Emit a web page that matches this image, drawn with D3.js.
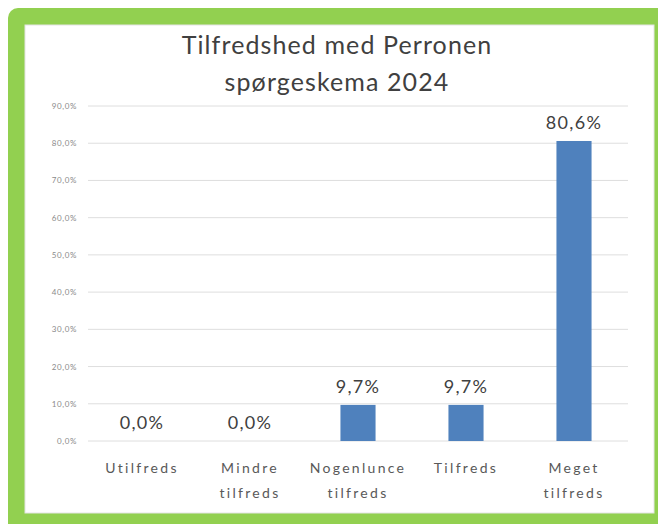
<!DOCTYPE html>
<html>
<head>
<meta charset="utf-8">
<script src="https://cdn.jsdelivr.net/npm/d3@7"></script>
<style>
  body { margin: 0; background: #fff; }
  svg { display: block; }
</style>
</head>
<body>
<svg id="chart"></svg>
<script>
const categories = [["Utilfreds"], ["Mindre", "tilfreds"], ["Nogenlunce", "tilfreds"], ["Tilfreds"], ["Meget", "tilfreds"]];
const values = [0.0, 0.0, 9.7, 9.7, 80.6];
const y_ticks = [0, 10, 20, 30, 40, 50, 60, 70, 80, 90];
const title_lines = ["Tilfredshed med Perronen", "spørgeskema 2024"];

const width = 658, height = 524;
const font = "Lato, 'Open Sans', sans-serif";

const svg = d3.select("#chart").attr("width", width).attr("height", height);

// green frame
svg.append("rect")
   .attr("x", 8).attr("y", 8)
   .attr("width", 665).attr("height", 530)
   .attr("rx", 10)
   .attr("fill", "#92d050");
svg.append("rect")
   .attr("x", 25).attr("y", 25)
   .attr("width", 629).attr("height", 488)
   .attr("fill", "#fff")
   .attr("stroke", "#e4e4e4")
   .attr("stroke-width", 1);

const x = d3.scaleBand()
            .domain(d3.range(categories.length))
            .range([88, 628])
            .paddingInner(0.675)
            .paddingOuter(0.3375);

const y = d3.scaleLinear().domain([0, 90]).range([441, 106]);

const fmt = v => d3.format(".1f")(v).replace(".", ",") + "%";

// gridlines
svg.append("g")
   .selectAll("line")
   .data(y_ticks)
   .enter()
   .append("line")
   .attr("x1", 88).attr("x2", 628)
   .attr("y1", d => y(d)).attr("y2", d => y(d))
   .attr("stroke", "#dedede")
   .attr("stroke-width", 1);

// y tick labels
svg.append("g")
   .selectAll("text")
   .data(y_ticks)
   .enter()
   .append("text")
   .attr("x", 77)
   .attr("y", d => y(d) + 3)
   .attr("text-anchor", "end")
   .attr("font-family", font)
   .attr("font-size", 8)
   .attr("letter-spacing", 0.6)
   .attr("fill", "#8a8a8a")
   .text(d => fmt(d));

// bars
svg.append("g")
   .selectAll("rect")
   .data(values)
   .enter()
   .append("rect")
   .attr("x", (d, i) => x(i))
   .attr("y", d => y(d))
   .attr("width", x.bandwidth())
   .attr("height", d => y(0) - y(d))
   .attr("fill", "#4f81bd");

// value labels
svg.append("g")
   .selectAll("text")
   .data(values)
   .enter()
   .append("text")
   .attr("x", (d, i) => x(i) + x.bandwidth() / 2)
   .attr("y", d => y(d) - 12)
   .attr("text-anchor", "middle")
   .attr("font-family", font)
   .attr("font-size", 18)
   .attr("letter-spacing", 1.3)
   .attr("fill", "#404040")
   .text(d => fmt(d));

// category labels
const cat = svg.append("g")
               .selectAll("text")
               .data(categories)
               .enter()
               .append("text")
               .attr("text-anchor", "middle")
               .attr("font-family", font)
               .attr("font-size", 14)
               .attr("letter-spacing", 2.3)
               .attr("fill", "#595959");
cat.selectAll("tspan")
   .data((d, i) => d.map(t => ({ t: t, i: i })))
   .enter()
   .append("tspan")
   .attr("x", d => x(d.i) + x.bandwidth() / 2)
   .attr("y", (d, j) => 473 + j * 25)
   .text(d => d.t);

// title
svg.append("g")
   .selectAll("text")
   .data(title_lines)
   .enter()
   .append("text")
   .attr("x", 337)
   .attr("y", (d, i) => 54 + i * 37)
   .attr("text-anchor", "middle")
   .attr("font-family", font)
   .attr("font-size", 25)
   .attr("letter-spacing", 1.1)
   .attr("fill", "#404040")
   .text(d => d);
</script>
</body>
</html>
